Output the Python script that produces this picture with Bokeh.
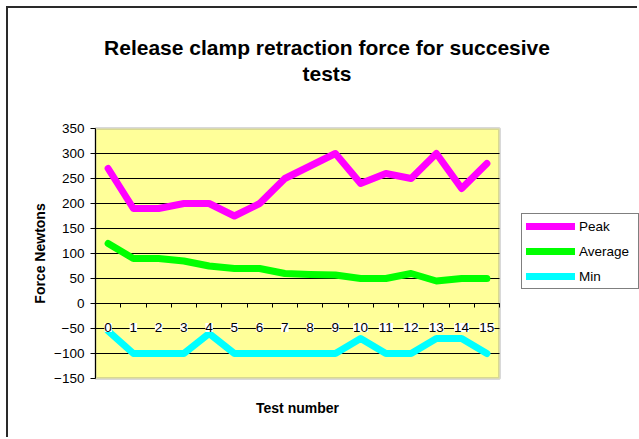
from bokeh.plotting import figure
from bokeh.models import (Range1d, FixedTicker, LinearAxis, Legend, LegendItem,
                          Label, LabelSet, ColumnDataSource, BoxAnnotation)
from bokeh.core.properties import value
from bokeh.embed import file_html
from bokeh.resources import INLINE

# ---- data ----
tests = list(range(16))
peak = [270, 190, 190, 200, 200, 175, 200, 250, 275, 300, 240, 260, 250, 300, 230, 280]
average = [120, 90, 90, 85, 75, 70, 70, 60, 58, 57, 50, 50, 60, 45, 50, 50]
minimum = [-55, -100, -100, -100, -60, -100, -100, -100, -100, -100, -70, -100, -100, -70, -70, -100]
y_ticks = [-150, -100, -50, 0, 50, 100, 150, 200, 250, 300, 350]
x_tick_labels = [str(t) for t in tests]
series_names = ["Peak", "Average", "Min"]
series_colors = ["#FF00FF", "#00FF00", "#00FFFF"]
title_lines = ["Release clamp retraction force for succesive", "tests"]
x_title = "Test number"
y_title = "Force Newtons"

# ---- layout (pixels on the canvas) ----
FONT = "Liberation Sans"
W, H = 631, 431
PL, PR, PT, PB = 87, 491, 120, 370   # plot-area edges inside the canvas

x_lo, x_hi = tests[0] - 0.5, tests[-1] + 0.5
y_lo, y_hi = y_ticks[0], y_ticks[-1]
sx = (PR - PL) / (x_hi - x_lo)
sy = (PB - PT) / (y_hi - y_lo)

p = figure(width=W, height=H, output_backend="svg", toolbar_location=None,
           x_range=Range1d(x_lo - PL / sx, x_hi + (W - PR) / sx),
           y_range=Range1d(y_lo - (H - PB) / sy, y_hi + PT / sy),
           x_axis_location=None, y_axis_location=None, title_location=None,
           min_border_left=0, min_border_right=0,
           min_border_top=0, min_border_bottom=0)
p.margin = (8, 0, 0, 8)
p.background_fill_color = "white"
p.border_fill_color = "white"
p.outline_line_color = None
p.styles = {"box-shadow": "-2px -2px 0 0 #2a2a2a"}
p.center = []

# plot area: yellow with grey border
p.add_layout(BoxAnnotation(left=x_lo, right=x_hi, bottom=y_lo, top=y_hi,
                           fill_color="#FFFF99", fill_alpha=1,
                           line_color="#808080", line_width=3, level="underlay"))

# horizontal grid lines inside the plot area
grid_y = y_ticks[1:-1]
p.segment(x0=[x_lo] * len(grid_y), y0=grid_y, x1=[x_hi] * len(grid_y), y1=grid_y,
          line_color="black", line_width=1)

# y axis on the left edge of the plot area
yaxis = LinearAxis(ticker=FixedTicker(ticks=y_ticks), axis_label=y_title,
                   fixed_location=x_lo, bounds=(y_lo, y_hi))
yaxis.axis_line_color = "black"
yaxis.major_tick_line_color = "black"
yaxis.major_tick_out = 5
yaxis.major_tick_in = 0
yaxis.minor_tick_line_color = None
yaxis.major_label_standoff = 6
yaxis.major_label_text_font = FONT
yaxis.major_label_text_font_size = "13.5px"
yaxis.major_label_text_color = "black"
yaxis.axis_label_text_font = FONT
yaxis.axis_label_text_font_size = "14px"
yaxis.axis_label_text_font_style = "bold"
yaxis.axis_label_text_color = "black"
yaxis.axis_label_standoff = 3
p.add_layout(yaxis, "left")

# x axis at y = 0, tick marks between categories
xaxis = LinearAxis(ticker=FixedTicker(ticks=[], minor_ticks=[t + 0.5 for t in tests]),
                   fixed_location=0, bounds=(x_lo, x_hi))
xaxis.axis_line_color = "black"
xaxis.major_tick_out = 0
xaxis.major_tick_in = 0
xaxis.minor_tick_line_color = "black"
xaxis.minor_tick_out = 4
xaxis.minor_tick_in = 0
p.add_layout(xaxis, "below")

# x axis title under the plot area
xt = LinearAxis(ticker=FixedTicker(ticks=[]), axis_label=x_title,
                fixed_location=y_lo, bounds=(x_lo, x_hi))
xt.axis_line_color = None
xt.major_tick_line_color = None
xt.minor_tick_line_color = None
xt.major_tick_out = 0
xt.major_label_standoff = 0
xt.axis_label_text_font = FONT
xt.axis_label_text_font_size = "14px"
xt.axis_label_text_font_style = "bold"
xt.axis_label_text_color = "black"
xt.axis_label_standoff = 21
p.add_layout(xt, "below")

# lines
renderers = []
for vals, color in zip([peak, average, minimum], series_colors):
    r = p.line(tests, vals, line_color=color, line_width=7,
               line_cap="round", line_join="round")
    renderers.append(r)

# category labels with white boxes, hanging below the zero axis
lab_src = ColumnDataSource(dict(x=tests, y=[0] * len(tests), t=x_tick_labels))
p.add_layout(LabelSet(source=lab_src, x="x", y="y", text="t", y_offset=-24,
                      text_align=value("center"), text_baseline=value("middle"),
                      text_font=value(FONT), text_font_size=value("13.5px"),
                      text_color=value("black"),
                      background_fill_color=value("white"), background_fill_alpha=1))

# legend to the right of the plot area
legend = Legend(items=[LegendItem(label=n, renderers=[r])
                       for n, r in zip(series_names, renderers)],
                location=(PR + 22, H - PB + 89))
legend.border_line_color = "black"
legend.border_line_width = 1
legend.background_fill_color = "white"
legend.background_fill_alpha = 1
legend.padding = 4
legend.margin = 0
legend.spacing = 9
legend.glyph_width = 49
legend.glyph_height = 16
legend.label_height = 16
legend.label_width = 55
legend.label_standoff = 4
legend.label_text_font = FONT
legend.label_text_font_size = "13.5px"
legend.label_text_color = "black"
p.add_layout(legend)

# two-line title
for txt, top_px in zip(title_lines, [38.5, 65.3]):
    p.add_layout(Label(x=318.5, y=H - top_px, x_units="screen", y_units="screen",
                       text=txt, text_align="center", text_baseline="alphabetic",
                       text_font=FONT, text_font_size="21px",
                       text_font_style="bold", text_color="black"))

open("out.html", "w").write(file_html(p, INLINE))
